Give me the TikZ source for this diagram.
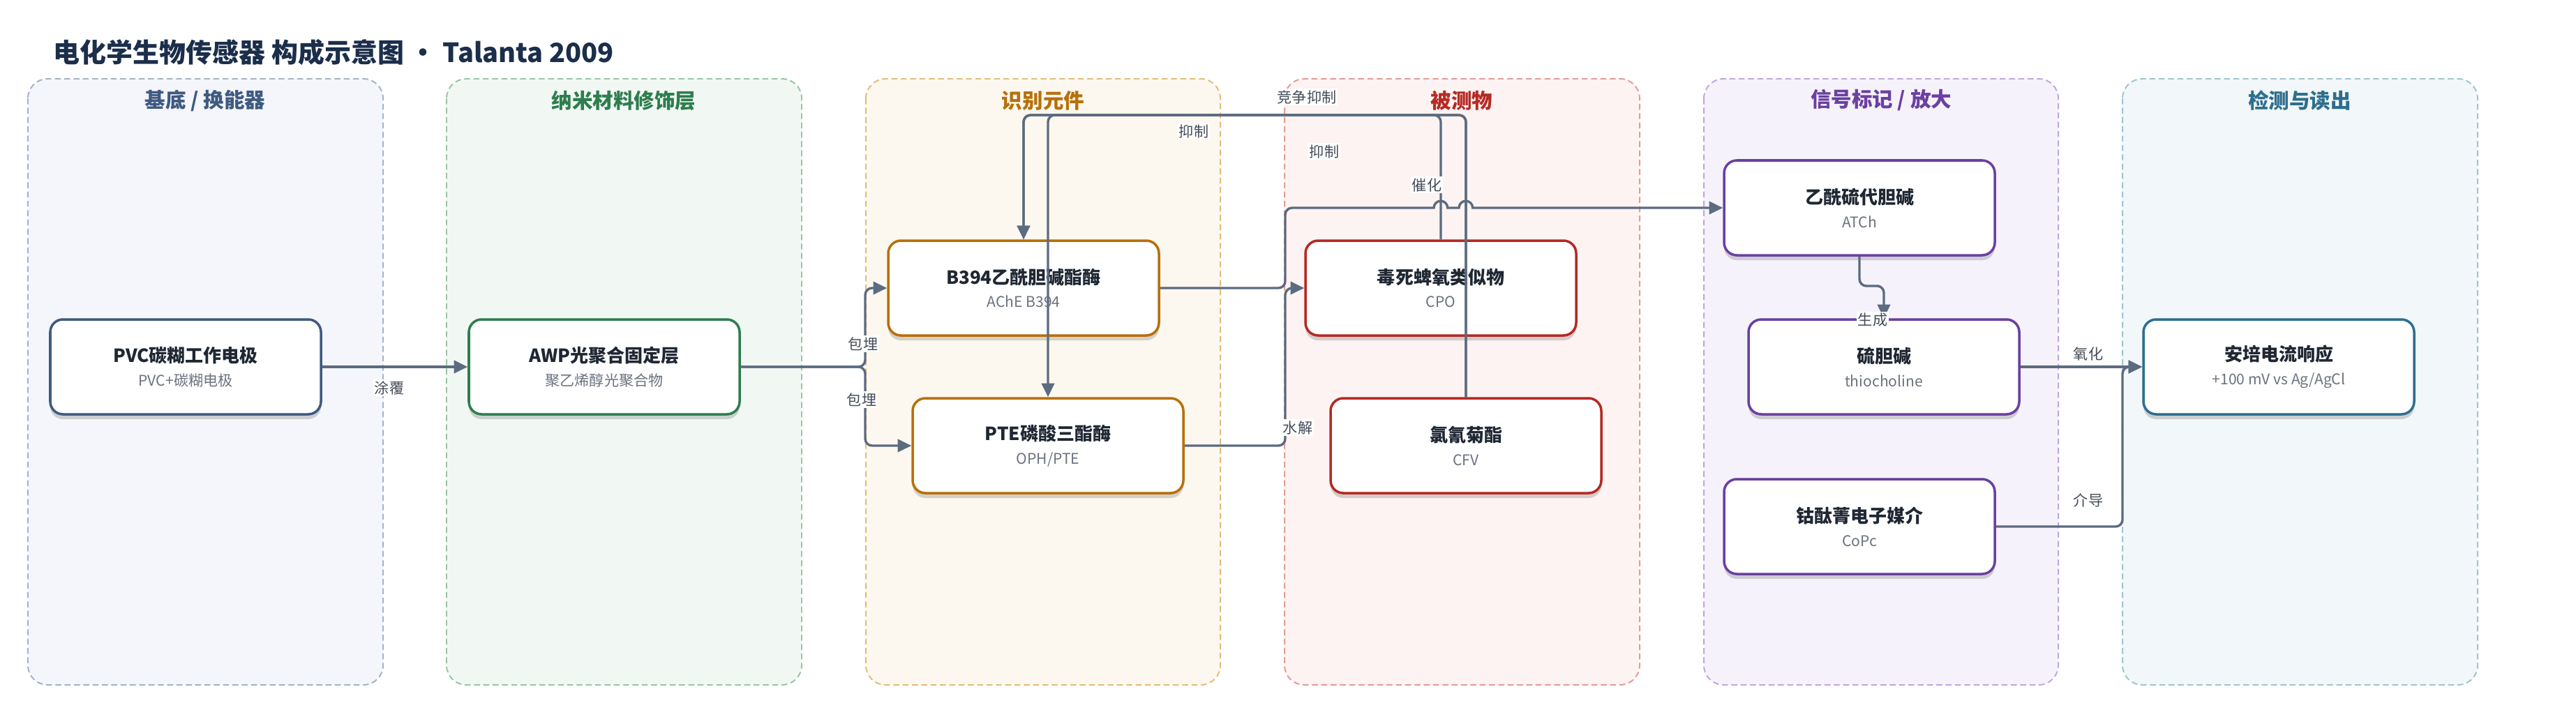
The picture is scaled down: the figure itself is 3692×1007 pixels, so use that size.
\documentclass[tikz,border=0pt]{standalone}
\usepackage{fontspec}
\setmainfont{Noto Sans CJK SC}
\usetikzlibrary{arrows.meta,shadows}

\definecolor{inkline}{HTML}{5B6B80}
\definecolor{titleink}{HTML}{1B2E4B}
\definecolor{maintxt}{HTML}{1F2733}
\definecolor{subtxt}{HTML}{6B7280}
\definecolor{lbltxt}{HTML}{454C58}
% lane colours: C = ink, F = fill, D = dashed border
\definecolor{baseC}{HTML}{3F5A80}\definecolor{baseF}{HTML}{F4F6FB}\definecolor{baseD}{HTML}{A3B2C9}
\definecolor{nanoC}{HTML}{2E7D4E}\definecolor{nanoF}{HTML}{F1F8F3}\definecolor{nanoD}{HTML}{97C6A6}
\definecolor{recoC}{HTML}{B7700A}\definecolor{recoF}{HTML}{FDF8EF}\definecolor{recoD}{HTML}{E3BC7C}
\definecolor{anaC}{HTML}{B52A24}\definecolor{anaF}{HTML}{FDF3F2}\definecolor{anaD}{HTML}{E39C97}
\definecolor{sigC}{HTML}{6A40A0}\definecolor{sigF}{HTML}{F6F2FB}\definecolor{sigD}{HTML}{C0A6DD}
\definecolor{detC}{HTML}{2E6E8E}\definecolor{detF}{HTML}{F2F7F9}\definecolor{detD}{HTML}{A0C4D0}

\newcommand{\boxtext}[2]{{\bfseries\color{maintxt}#1}\\{\fontsize{15}{24}\selectfont\color{subtxt}#2}}

\tikzset{
	panel/.style={line width=1.4pt, dash pattern=on 6pt off 3.5pt, rounded corners=20pt},
	ptitle/.style={font=\fontsize{21}{25}\selectfont\bfseries},
	compbox/.style={draw=#1, line width=2.5pt, fill=white, rounded corners=13pt,
		minimum width=97mm, minimum height=34mm, align=center, inner sep=0pt,
		font=\fontsize{18.5}{24}\selectfont,
		drop shadow={shadow xshift=0pt, shadow yshift=-5pt, opacity=.16, fill=black}},
	conn/.style={draw=inkline, line width=2.4pt, rounded corners=7pt,
		-{Triangle[length=14pt,width=13pt]}},
	elbl/.style={fill=white, inner sep=1.5pt, text=lbltxt, font=\fontsize{15}{18}\selectfont},
}

\begin{document}
\begin{tikzpicture}[x=0.25mm, y=-0.25mm]
	\useasboundingbox[fill=white] (0,0) rectangle (3692,1007);

	\node[anchor=west, text=titleink, font=\fontsize{27}{32}\selectfont\bfseries] (title) at (72,75) {电化学生物传感器 构成示意图 · Talanta 2009};

	% lanes
	\draw[panel, draw=baseD, fill=baseF] (40,113) rectangle (549,982);
	\draw[panel, draw=nanoD, fill=nanoF] (640,113) rectangle (1149,982);
	\draw[panel, draw=recoD, fill=recoF] (1241,113) rectangle (1749,982);
	\draw[panel, draw=anaD, fill=anaF] (1841,113) rectangle (2350,982);
	\draw[panel, draw=sigD, fill=sigF] (2442,113) rectangle (2950,982);
	\draw[panel, draw=detD, fill=detF] (3042,113) rectangle (3551,982);

	\node[ptitle, text=baseC] (t-base) at (294,144) {基底 / 换能器};
	\node[ptitle, text=nanoC] (t-nano) at (894,144) {纳米材料修饰层};
	\node[ptitle, text=recoC] (t-reco) at (1495,144) {识别元件};
	\node[ptitle, text=anaC] (t-ana) at (2095,144) {被测物};
	\node[ptitle, text=sigC] (t-sig) at (2696,144) {信号标记 / 放大};
	\node[ptitle, text=detC] (t-det) at (3296,144) {检测与读出};

	% components
	\node[compbox=baseC] (pvc) at (266,526) {\boxtext{PVC碳糊工作电极}{PVC+碳糊电极}};
	\node[compbox=nanoC] (awp) at (866,526) {\boxtext{AWP光聚合固定层}{聚乙烯醇光聚合物}};
	\node[compbox=recoC] (b394) at (1467,413) {\boxtext{B394乙酰胆碱酯酶}{AChE B394}};
	\node[compbox=recoC] (pte) at (1502,639) {\boxtext{PTE磷酸三酯酶}{OPH/PTE}};
	\node[compbox=anaC] (cpo) at (2065,413) {\boxtext{毒死蜱氧类似物}{CPO}};
	\node[compbox=anaC] (cfv) at (2101,639) {\boxtext{氯氰菊酯}{CFV}};
	\node[compbox=sigC] (atch) at (2665,298) {\boxtext{乙酰硫代胆碱}{ATCh}};
	\node[compbox=sigC] (thio) at (2700,526) {\boxtext{硫胆碱}{thiocholine}};
	\node[compbox=sigC] (copc) at (2665,755) {\boxtext{钴酞菁电子媒介}{CoPc}};
	\node[compbox=detC] (amp) at (3266,526) {\boxtext{安培电流响应}{+100 mV vs Ag/AgCl}};

	\coordinate (topbus) at (1780,165);
	\coordinate (hydx) at (1842,526);
	\coordinate (catx) at (1842,350);

	% connectors
	\draw[conn] (pvc) -- (awp);
	\draw[conn] (awp.east) -| (1240,470) |- (b394.west);
	\draw[conn] (awp.east) -| (1240,580) |- (pte.west);
	\draw[conn] (cpo.north) |- (topbus) -| (b394.north);
	\draw[conn] (cfv.north) |- (topbus) -| (b394.north);
	\draw[conn] (cfv.north) |- (topbus) -| (pte.north);
	\draw[conn] (pte.east) -| (hydx) |- (cpo.west);
	\draw[conn] (b394.east) -| (catx) |- (1950,298) [sharp corners] -- (2055,298)
		arc[start angle=180, end angle=0, radius=7pt] -- (2091,298)
		arc[start angle=180, end angle=0, radius=7pt] -- (atch.west);
	\draw[conn] (atch.south) |- (2683,410) -| (thio.north);
	\draw[conn] (thio) -- (amp);
	\draw[conn] (copc.east) -| (3042,640) |- (amp.west);

	% labels
	\node[elbl] (l-coat) at (558,556) {涂覆};
	\node[elbl] (l-emb1) at (1237,493) {包埋};
	\node[elbl] (l-emb2) at (1235,573) {包埋};
	\node[elbl] (l-inh1) at (1711,188) {抑制};
	\node[elbl] (l-comp) at (1873,139) {竞争抑制};
	\node[elbl] (l-inh2) at (1898,217) {抑制};
	\node[elbl] (l-cat) at (2045,265) {催化};
	\node[elbl] (l-hyd) at (1860,613) {水解};
	\node[elbl] (l-gen) at (2684,459) {生成};
	\node[elbl] (l-ox) at (2993,507) {氧化};
	\node[elbl] (l-med) at (2993,717) {介导};
\end{tikzpicture}
\end{document}
